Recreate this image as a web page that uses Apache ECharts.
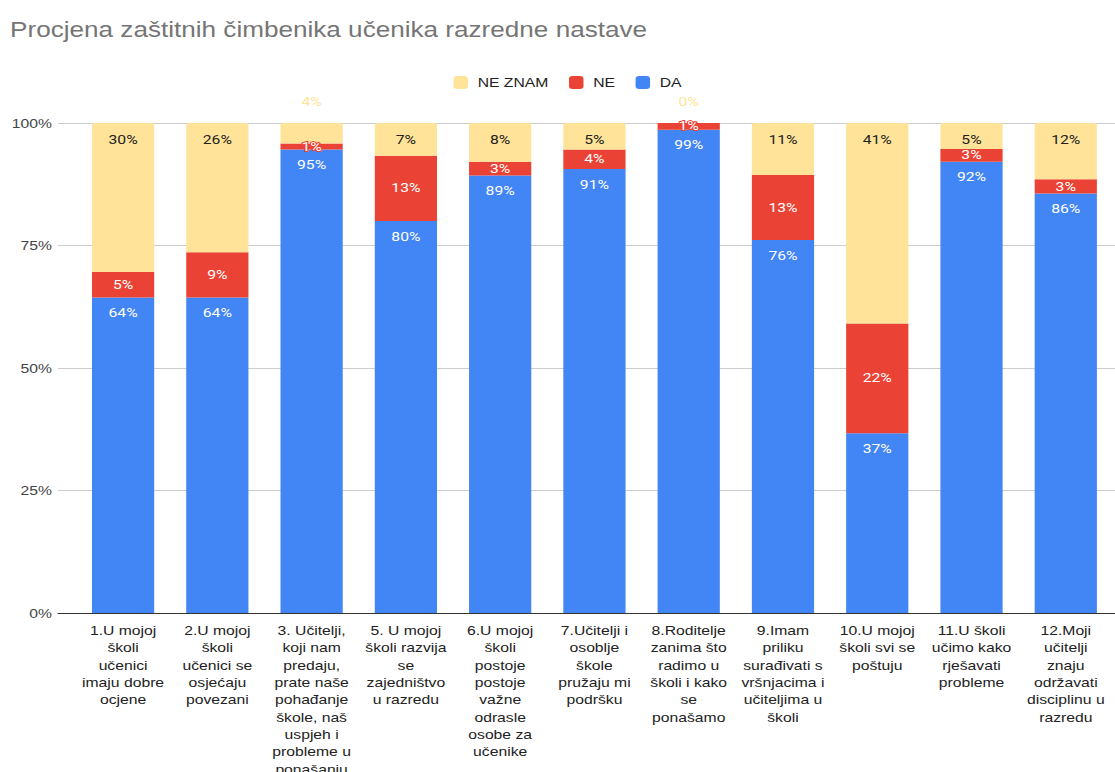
<!DOCTYPE html>
<html>
<head>
<meta charset="utf-8">
<script src="https://cdn.jsdelivr.net/npm/echarts@6/dist/echarts.min.js"></script>
<style>
html,body{margin:0;padding:0;background:#fff;overflow:hidden;}
#wrap{width:1115px;height:772px;overflow:hidden;}
#chart{width:922px;height:772px;transform:scaleX(1.2093);transform-origin:0 0;}
</style>
</head>
<body>
<div id="wrap"><div id="chart"></div></div>
<script>
const categories = [
  "1.U mojoj\nškoli\nučenici\nimaju dobre\nocjene",
  "2.U mojoj\nškoli\nučenici se\nosjećaju\npovezani",
  "3. Učitelji,\nkoji nam\npredaju,\nprate naše\npohađanje\nškole, naš\nuspjeh i\nprobleme u\nponašanju",
  "5. U mojoj\nškoli razvija\nse\nzajedništvo\nu razredu",
  "6.U mojoj\nškoli\npostoje\npostoje\nvažne\nodrasle\nosobe za\nučenike",
  "7.Učitelji i\nosoblje\nškole\npružaju mi\npodršku",
  "8.Roditelje\nzanima što\nradimo u\nškoli i kako\nse\nponašamo",
  "9.Imam\npriliku\nsurađivati s\nvršnjacima i\nučiteljima u\nškoli",
  "10.U mojoj\nškoli svi se\npoštuju",
  "11.U školi\nučimo kako\nrješavati\nprobleme",
  "12.Moji\nučitelji\nznaju\nodržavati\ndisciplinu u\nrazredu"
];
const daValues     = [64.4, 64.4, 94.6, 80.0, 89.3, 90.6, 98.6, 76.1, 36.7, 92.1, 85.6];
const neValues     = [5.2, 9.2, 1.2, 13.3, 2.8, 4.0, 1.4, 13.3, 22.4, 2.6, 2.9];
const neZnamValues = [30.4, 26.4, 4.2, 6.7, 7.9, 5.4, 0, 10.6, 40.9, 5.3, 11.5];
const yTicks = [0, 25, 50, 75, 100];

const C_DA = '#4285F4', C_NE = '#EA4335', C_NZ = '#FFE398';
const fmt = p => Math.round(p.value) + '%';
const labelFont = 'Roboto, "Liberation Sans", Arial, sans-serif';
const arial = '"Liberation Sans", Arial, sans-serif';

const nzData = neZnamValues.map(v => {
  if (v < 5) {
    return { value: v, label: { position: 'top', distance: 15, color: '#FFE398' } };
  }
  return v;
});

const chart = echarts.init(document.getElementById('chart'), null, { renderer: 'svg' });
chart.setOption({
  animation: false,
  title: {
    text: 'Procjena zaštitnih čimbenika učenika razredne nastave',
    left: 3.3, top: 13,
    textStyle: { fontFamily: arial, fontSize: 21.6, fontWeight: 'normal', color: '#757575' }
  },
  legend: {
    data: ['NE ZNAM', 'NE', 'DA'],
    left: 370, top: 71,
    itemWidth: 12, itemHeight: 13, itemGap: 17,
    icon: 'roundRect',
    textStyle: { fontFamily: arial, fontSize: 13, color: '#222', padding: [0, 0, 0, 3] }
  },
  grid: [
    { left: 48, right: 0, top: 123, bottom: 159, containLabel: false, outerBoundsMode: 'none' },
    { left: 62.8, right: 1.7, top: 123, bottom: 159, containLabel: false, outerBoundsMode: 'none' }
  ],
  xAxis: [
    { gridIndex: 0, type: 'category', data: [''], axisLine: { lineStyle: { color: '#333', width: 1 } }, axisTick: { show: false }, axisLabel: { show: false } },
    { gridIndex: 1, type: 'category', data: categories,
      axisLine: { show: false }, axisTick: { show: false },
      axisLabel: { interval: 0, margin: 9, fontFamily: arial, fontSize: 13, lineHeight: 17.3, color: '#222', align: 'center' } }
  ],
  yAxis: [
    { gridIndex: 0, type: 'value', min: 0, max: 100, interval: 25,
      axisLine: { show: false }, axisTick: { show: false },
      splitLine: { lineStyle: { color: '#cccccc' } },
      axisLabel: { margin: 5, formatter: v => yTicks.includes(v) ? v + '%' : '', fontFamily: arial, fontSize: 13, color: '#444' } },
    { gridIndex: 1, type: 'value', min: 0, max: 100, interval: 25, show: false, splitLine: { show: false } }
  ],
  series: [
    { name: 'DA', type: 'bar', stack: 'all', xAxisIndex: 1, yAxisIndex: 1, data: daValues,
      barCategoryGap: '34%',
      itemStyle: { color: C_DA },
      label: { show: true, position: 'insideTop', distance: 9, formatter: fmt, color: '#fff', fontFamily: labelFont, fontSize: 13, textBorderColor: C_DA, textBorderWidth: 2 } },
    { name: 'NE', type: 'bar', stack: 'all', xAxisIndex: 1, yAxisIndex: 1, data: neValues,
      itemStyle: { color: C_NE },
      label: { show: true, position: 'inside', formatter: fmt, color: '#fff', fontFamily: labelFont, fontSize: 13, textBorderColor: C_NE, textBorderWidth: 2 } },
    { name: 'NE ZNAM', type: 'bar', stack: 'all', xAxisIndex: 1, yAxisIndex: 1, data: nzData,
      itemStyle: { color: C_NZ, borderRadius: [2, 2, 0, 0] },
      label: { show: true, position: 'insideTop', distance: 10, formatter: fmt, color: '#222', fontFamily: labelFont, fontSize: 13 } }
  ]
});
</script>
</body>
</html>
